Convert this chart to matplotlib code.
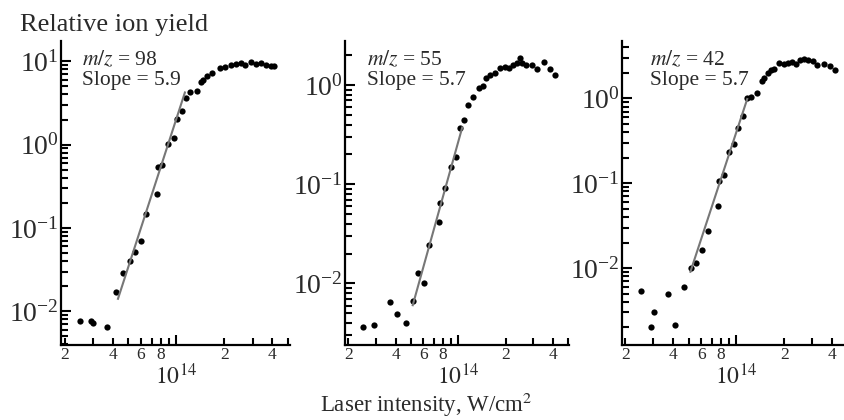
import numpy as np
import matplotlib
matplotlib.use("Agg")
import matplotlib.pyplot as plt
from matplotlib.ticker import FixedLocator, FuncFormatter, LogLocator, LogFormatterSciNotation, NullFormatter

plt.rcParams['font.family'] = ['Liberation Serif', 'DejaVu Serif']
plt.rcParams['mathtext.fontset'] = 'stix'

# laser intensity in units of 1e14 W/cm^2, relative ion yield
i98 = [0.249, 0.291, 0.302, 0.366, 0.418, 0.462, 0.514, 0.552, 0.603, 0.648,
       0.756, 0.767, 0.813, 0.887, 0.961, 1.01, 1.09, 1.15, 1.22, 1.34,
       1.42, 1.47, 1.56, 1.68, 1.87, 2.03, 2.19, 2.35, 2.53, 2.69,
       2.92, 3.14, 3.41, 3.63, 3.90, 4.06]
y98 = [7.6e-3, 7.7e-3, 7.3e-3, 6.4e-3, 1.71e-2, 2.9e-2, 4.0e-2, 5.1e-2, 6.9e-2, 0.146,
       0.255, 0.537, 0.567, 1.01, 1.21, 2.01, 2.50, 3.6, 4.3, 4.43,
       5.56, 5.97, 6.65, 7.16, 8.36, 8.6, 8.9, 9.15, 9.4, 9.07,
       9.73, 9.15, 9.57, 8.97, 8.73, 8.73]

i55 = [0.249, 0.292, 0.366, 0.410, 0.467, 0.514, 0.552, 0.609, 0.654, 0.756,
       0.767, 0.821, 0.896, 0.963, 1.02, 1.09, 1.16, 1.24, 1.35, 1.44,
       1.51, 1.60, 1.72, 1.85, 1.97, 2.11, 2.22, 2.35, 2.47, 2.55,
       2.69, 2.92, 3.14, 3.51, 3.81, 4.10]
y55 = [3.65e-3, 3.86e-3, 6.57e-3, 4.96e-3, 4.04e-3, 6.73e-3, 1.29e-2, 1.01e-2, 2.47e-2, 4.2e-2,
       6.5e-2, 9.2e-2, 0.151, 0.19, 0.365, 0.449, 0.632, 0.755, 0.94, 0.977,
       1.17, 1.26, 1.33, 1.49, 1.52, 1.50, 1.58, 1.67, 1.87, 1.68,
       1.61, 1.61, 1.44, 1.71, 1.44, 1.26]

i42 = [0.252, 0.292, 0.305, 0.370, 0.413, 0.467, 0.519, 0.558, 0.609, 0.661,
       0.764, 0.775, 0.834, 0.896, 0.971, 1.03, 1.10, 1.17, 1.24, 1.35,
       1.44, 1.49, 1.57, 1.65, 1.73, 1.85, 1.99, 2.10, 2.24, 2.37,
       2.50, 2.65, 2.82, 3.03, 3.22, 3.55, 3.85, 4.16]
y42 = [5.37e-3, 2.01e-3, 3.06e-3, 4.99e-3, 2.11e-3, 6.02e-3, 1.0e-2, 1.16e-2, 1.62e-2, 2.72e-2,
       5.38e-2, 0.106, 0.124, 0.232, 0.287, 0.449, 0.612, 1.0, 1.03, 1.17,
       1.60, 1.75, 2.0, 2.15, 2.23, 2.62, 2.57, 2.62, 2.66, 2.57,
       2.80, 2.94, 2.86, 2.73, 2.50, 2.57, 2.43, 2.19]

labels = ['98', '55', '42']
slopes = [5.9, 5.7, 5.7]
fit_from = [0.43, 0.514, 0.514]
fit_to = [1.13, 1.06, 1.17]
fit_anchor_x = [0.594, 0.738, 0.775]
fit_anchor_y = [0.095, 0.0475, 0.094]

ylims = [(3.94e-3, 17.5), (2.4e-3, 2.78), (1.24e-3, 4.75)]
xlims = [(0.189, 5.15), (0.191, 5.05), (0.191, 4.68)]

xminor = [0.2, 0.3, 0.4, 0.5, 0.6, 0.7, 0.8, 0.9, 2, 3, 4, 5]
xminor_lab = {0.2: '2', 0.4: '4', 0.6: '6', 0.8: '8', 2: '2', 4: '4'}

positions = [[0.0723, 0.1786, 0.2713, 0.7238],
             [0.4088, 0.1786, 0.2654, 0.7238],
             [0.7370, 0.1786, 0.2618, 0.7238]]
text_x = [0.092, 0.098, 0.127]

txt = '#2a2a2a'


def minor_fmt(v, pos):
    for k, s in xminor_lab.items():
        if abs(v / 1e14 - k) < 1e-6:
            return s
    return ''


def main():
    fig = plt.figure(figsize=(8.44, 4.20), dpi=100)
    data = [(i98, y98), (i55, y55), (i42, y42)]
    axes = []
    for n in range(3):
        ax = fig.add_axes(positions[n])
        axes.append(ax)
        x = np.array(data[n][0]) * 1e14
        y = np.array(data[n][1])
        ax.plot(x, y, 'o', color='black', markersize=4.5, markeredgewidth=0)

        # power-law fit line
        xf = np.array([fit_from[n], fit_to[n]])
        yf = fit_anchor_y[n] * (xf / fit_anchor_x[n]) ** slopes[n]
        ax.plot(xf * 1e14, yf, '-', color='#777777', lw=1.5)

        ax.set_xscale('log')
        ax.set_yscale('log')
        ax.set_xlim(xlims[n][0] * 1e14, xlims[n][1] * 1e14)
        ax.set_ylim(*ylims[n])

        ax.xaxis.set_major_locator(FixedLocator([1e14]))
        ax.xaxis.set_minor_locator(FixedLocator([v * 1e14 for v in xminor]))
        ax.xaxis.set_major_formatter(FuncFormatter(lambda v, p: '$10^{14}$'))
        ax.xaxis.set_minor_formatter(FuncFormatter(minor_fmt))
        ax.yaxis.set_major_locator(LogLocator(base=10))
        ax.yaxis.set_minor_locator(LogLocator(base=10, subs=np.arange(2, 10)))
        ax.yaxis.set_major_formatter(LogFormatterSciNotation())
        ax.yaxis.set_minor_formatter(NullFormatter())

        for s in ['top', 'right']:
            ax.spines[s].set_visible(False)
        for s in ['left', 'bottom']:
            ax.spines[s].set_linewidth(1.6)

        ax.tick_params(which='both', direction='in', width=1.5, colors='black')
        ax.tick_params(axis='y', which='major', length=7, pad=1.5, labelsize=20, labelcolor=txt)
        ax.tick_params(axis='y', which='minor', length=5)
        ax.tick_params(axis='x', which='major', length=7, pad=13, labelsize=17, labelcolor=txt)
        ax.tick_params(axis='x', which='minor', length=5, pad=1.5, labelsize=12.5, labelcolor=txt)

        ax.text(text_x[n], 0.939, '$m/z$ = ' + labels[n], transform=ax.transAxes,
                fontsize=15.5, color=txt, va='center', ha='left')
        ax.text(text_x[n], 0.871, 'Slope = %.1f' % slopes[n], transform=ax.transAxes,
                fontsize=15.5, color=txt, va='center', ha='left')

    fig.text(0.024, 0.94, 'Relative ion yield', fontsize=19, color=txt, va='center', ha='left')

    # put the 10^14 label just under the small 2,4,6,8 labels
    fig.canvas.draw()
    r = fig.canvas.get_renderer()
    for ax in axes:
        lo = min(t.get_window_extent(r).y0 for t in ax.xaxis.get_minorticklabels() if t.get_text())
        spine_y = ax.transAxes.transform((0, 0))[1]
        ax.tick_params(axis='x', which='major', pad=(spine_y - lo + 1) * 72 / fig.dpi)
    fig.canvas.draw()
    low = min(t.get_window_extent(r).y0 for ax in axes
              for t in ax.xaxis.get_majorticklabels() if t.get_text())

    size = 18
    xlab = fig.text(0.505, (low - 1) / fig.bbox.height, 'Laser intensity, W/cm$^2$',
                    fontsize=size, color=txt, va='top', ha='center')
    while xlab.get_window_extent(r).y0 < 0.5 and size > 12:
        size -= 0.5
        xlab.set_fontsize(size)

    fig.savefig('out.png', dpi=100)


if __name__ == "__main__":
    main()
